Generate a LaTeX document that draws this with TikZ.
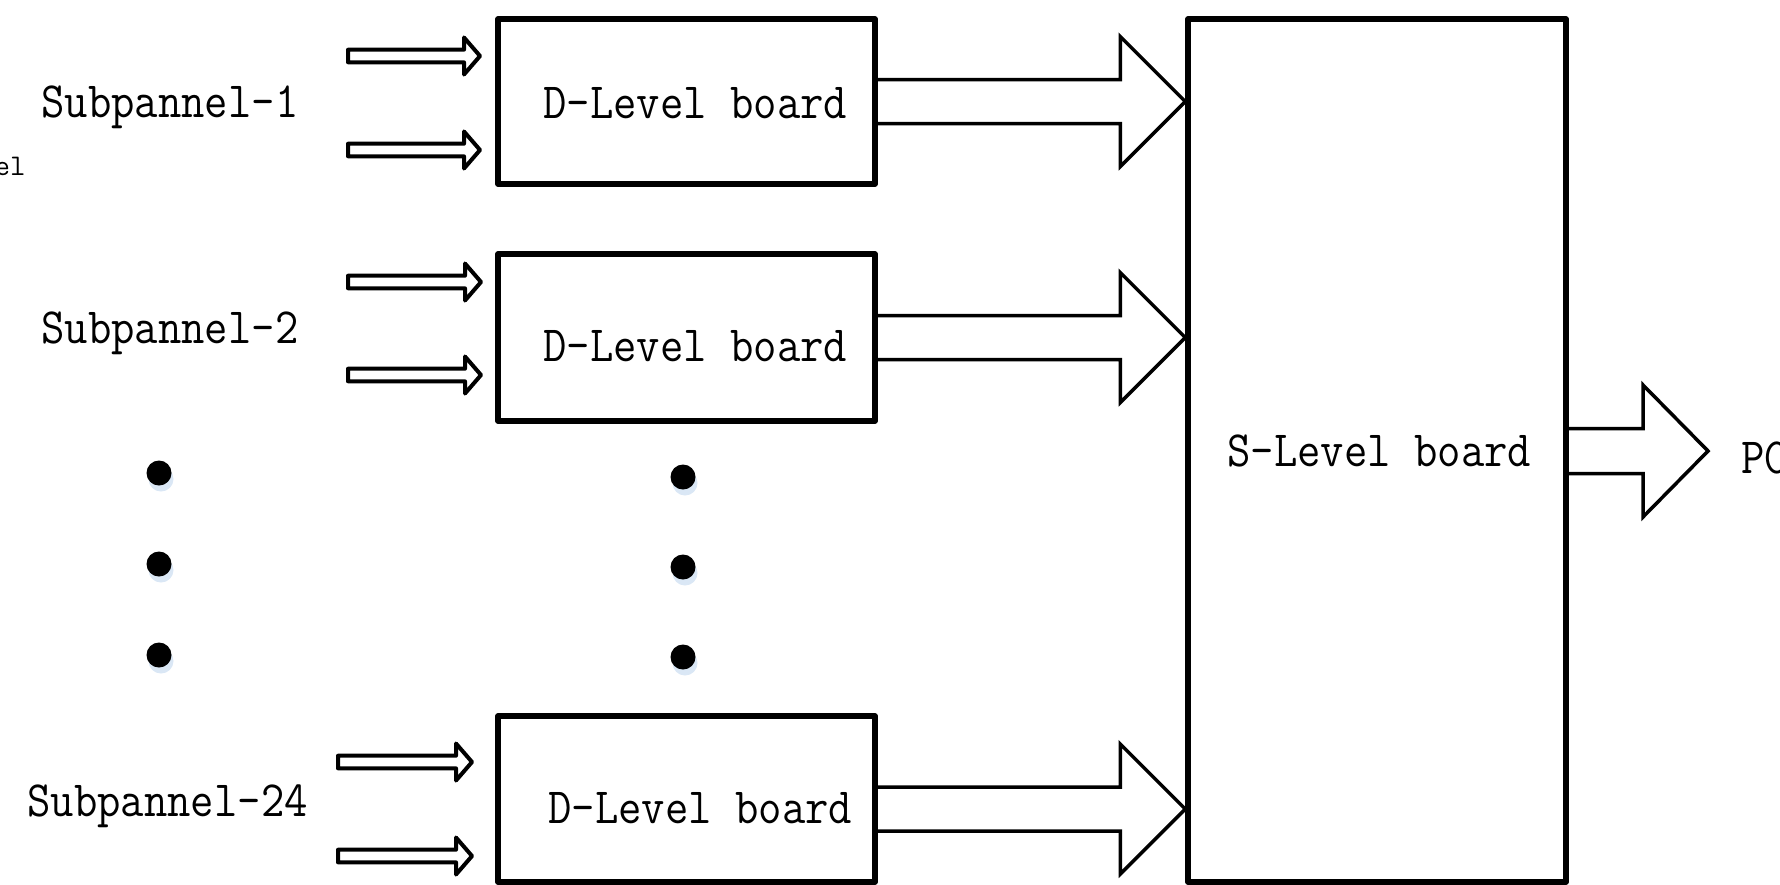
\documentclass[tikz,border=0pt]{standalone}
\usepackage{fontspec}
\usepackage{graphicx}
\usetikzlibrary{calc}
\definecolor{dotshade}{RGB}{218,231,245}
\newcommand\lblfont{\ttfamily\fontsize{25.4pt}{30pt}\selectfont}
\newcommand\smallfont{\ttfamily\fontsize{15pt}{17pt}\selectfont}
\newcommand\sx[1]{\scalebox{0.893}[1]{#1}}
% block arrow: style, from, to, shaft half, head half, head length, ending
\newcommand\blockarrow[7]{%
  \draw[#1] let \p1=(#2), \p2=(#3) in
    (\x1,\y1+#4) -- (\x2-#6,\y1+#4) -- (\x2-#6,\y1+#5) -- (\x2,\y1)
    -- (\x2-#6,\y1-#5) -- (\x2-#6,\y1-#4) -- (\x1,\y1-#4) #7;
}
\tikzset{
  board/.style={draw, line width=2.75pt, line join=round, inner sep=0pt, fill=white},
  lbl/.style={font=\lblfont, inner sep=0pt, anchor=base west},
  bigarrow/.style={line width=1.75pt, line join=miter},
  smallarrow/.style={line width=2pt, line join=round},
  dotdot/.style={circle, fill=black, minimum size=12.5pt, inner sep=0pt},
  dotshadow/.style={circle, fill=dotshade, minimum size=12.5pt, inner sep=0pt},
}
\begin{document}
\begin{tikzpicture}[x=0.5pt, y=-0.5pt]
\useasboundingbox (0,0) rectangle (1780,884);
\clip (0,0) rectangle (1780,884);

% boards
\node[board, minimum width=188.5pt, minimum height=82.5pt] (d1) at (686.5,101.5) {};
\node[board, minimum width=188.5pt, minimum height=83.5pt] (d2) at (686.5,337.5) {};
\node[board, minimum width=188.5pt, minimum height=83pt] (d3) at (686.5,799) {};
\node[board, minimum width=189pt, minimum height=431.5pt] (s) at (1377,450.5) {};

% texts
\node[lbl] (t1) at (41,117) {\sx{Subpannel-1}};
\node[lbl] (t2) at (41,343) {\sx{Subpannel-2}};
\node[lbl] (t3) at (27,816) {\sx{Subpannel-24}};
\node[lbl] (b1) at (543,118) {\sx{D-Level board}};
\node[lbl] (b2) at (543,361) {\sx{D-Level board}};
\node[lbl] (b3) at (548,823) {\sx{D-Level board}};
\node[lbl] (sb) at (1227,466) {\sx{S-Level board}};
\node[lbl] (pc) at (1741,473) {\sx{PC}};
\node[font=\smallfont, inner sep=0pt, anchor=base east] (el) at (26,175) {el};

% small input arrows
\coordinate (i1s) at (348,56);  \coordinate (i1t) at (480,56);
\coordinate (i2s) at (348,150); \coordinate (i2t) at (480,150);
\coordinate (i3s) at (348,282); \coordinate (i3t) at (481,282);
\coordinate (i4s) at (348,375); \coordinate (i4t) at (481,375);
\coordinate (i5s) at (338,762); \coordinate (i5t) at (472,762);
\coordinate (i6s) at (338,856); \coordinate (i6t) at (472,856);
\foreach \k in {1,...,6}{
  \blockarrow{smallarrow}{i\k s}{i\k t}{3.15pt}{9.25pt}{8pt}{-- cycle}
}

% big arrows from D boards to S board
\coordinate (o1) at (d1.east);
\coordinate (o2) at (d2.east);
\coordinate (o3) at ($(d3.east)+(0,10)$);
\blockarrow{bigarrow}{o1}{s.west |- o1}{11pt}{32.5pt}{32.5pt}{}
\blockarrow{bigarrow}{o2}{s.west |- o2}{11pt}{32.5pt}{32.5pt}{}
\blockarrow{bigarrow}{o3}{s.west |- o3}{11pt}{32.5pt}{32.5pt}{}

% output arrow to PC
\coordinate (so) at ($(s.east)+(0,0.5)$);
\coordinate (pt) at (1708,451);
\blockarrow{bigarrow}{so}{pt}{11.25pt}{33pt}{32.5pt}{}

% dots
\foreach \yy [count=\n] in {473,564,655}{
  \node[dotshadow] at (161,\yy+6) {};
  \node[dotdot] (ld\n) at (159,\yy) {};
}
\foreach \yy [count=\n] in {477,567,657}{
  \node[dotshadow] at (685,\yy+6) {};
  \node[dotdot] (rd\n) at (683,\yy) {};
}
\end{tikzpicture}
\end{document}
